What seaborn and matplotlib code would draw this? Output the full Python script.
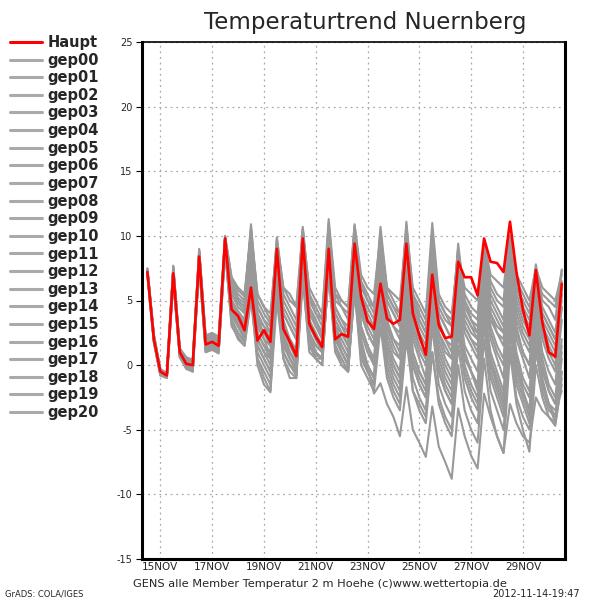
import numpy as np
import pandas as pd
import matplotlib
matplotlib.use("Agg")
import matplotlib.pyplot as plt
import matplotlib.dates as mdates
from matplotlib.ticker import FuncFormatter
from matplotlib.lines import Line2D
import seaborn as sns

title = "Temperaturtrend Nuernberg"
footer = "GENS alle Member Temperatur 2 m Hoehe (c)www.wettertopia.de"
credit_left = "GrADS: COLA/IGES"
credit_right = "2012-11-14-19:47"

start_time = "2012-11-14 12:00"
n_steps = 65
x_tick_days = ["2012-11-15", "2012-11-17", "2012-11-19", "2012-11-21",
               "2012-11-23", "2012-11-25", "2012-11-27", "2012-11-29"]
y_ticks = [-15, -10, -5, 0, 5, 10, 15, 20, 25]

haupt = [7.2, 2.0, -0.5, -0.8, 7.1, 1.0, 0.1, 0.0, 8.4, 1.6, 1.8, 1.5,
         9.8, 4.3, 3.8, 2.7, 6.0, 1.9, 2.7, 1.8, 9.0, 2.8, 1.8, 0.7,
         9.8, 3.2, 2.2, 1.4, 9.0, 2.0, 2.4, 2.2, 9.4, 5.3, 3.4, 2.8,
         6.3, 3.6, 3.2, 3.5, 9.4, 4.0, 2.3, 0.8, 7.0, 3.1, 2.1, 2.2,
         8.0, 6.8, 6.8, 5.4, 9.8, 8.0, 7.9, 7.2, 11.1, 7.2, 4.3, 2.3,
         7.35, 3.3, 1.0, 0.65, 6.3]

gep00 = [7.3, 2.1, -0.6, -0.9, 7.0, 0.9, 0.2, -0.2, 8.6, 1.8, 2.0, 1.6,
         9.5, 5.0, 4.2, 3.5, 9.8, 3.2, 2.5, 2.0, 8.5, 3.5, 2.0, 1.2,
         9.5, 4.0, 3.0, 2.5, 10.2, 4.5, 3.5, 3.0, 9.8, 5.5, 4.0, 3.0,
         9.0, 4.5, 3.0, 2.0, 8.0, 3.0, 1.5, 0.5, 6.5, 2.5, 1.0, 0.5,
         6.0, 3.0, 2.0, 1.5, 7.0, 4.0, 2.5, 1.5, 6.5, 3.0, 1.0, 0.0,
         5.0, 2.0, 0.5, -0.5, 4.5]
gep01 = [7.1, 1.9, -0.7, -1.0, 6.8, 1.1, 0.4, 0.2, 8.2, 1.4, 1.6, 1.3,
         9.9, 6.0, 5.0, 4.5, 10.5, 4.0, 2.0, 0.8, 7.5, 2.0, 0.5, -0.2,
         8.0, 2.5, 1.0, 0.5, 8.5, 3.0, 1.5, 0.5, 7.0, 2.0, 0.0, -1.0,
         5.5, 1.0, -0.5, -1.5, 4.5, 0.0, -1.5, -2.5, 3.5, -0.5, -2.0, -3.0,
         3.0, 0.5, -0.5, -1.5, 4.0, 1.0, -0.5, -2.0, 3.5, 0.5, -1.5, -2.5,
         2.5, -0.5, -2.0, -3.0, 1.5]
gep02 = [7.4, 2.3, -0.4, -0.7, 7.5, 1.2, 0.5, 0.3, 8.8, 2.0, 2.2, 1.8,
         10.0, 6.5, 5.5, 5.0, 10.9, 5.0, 4.0, 3.2, 9.9, 5.5, 4.5, 3.5,
         10.7, 5.5, 4.0, 3.0, 10.5, 5.0, 4.5, 4.0, 10.5, 6.5, 5.0, 4.5,
         10.7, 6.0, 5.0, 4.0, 11.1, 5.5, 4.5, 3.5, 10.0, 5.0, 4.0, 3.0,
         9.4, 5.0, 3.5, 2.5, 8.5, 5.5, 4.5, 3.5, 9.0, 6.0, 5.0, 4.0,
         7.8, 5.0, 4.5, 3.5, 7.4]
gep03 = [7.2, 2.0, -0.5, -0.7, 6.6, 0.8, -0.1, -0.3, 7.9, 1.2, 1.4, 1.1,
         9.2, 4.0, 3.5, 2.5, 7.5, 2.0, 1.0, 0.5, 8.0, 2.5, 1.0, 0.3,
         9.0, 3.5, 2.0, 1.0, 9.5, 3.5, 2.5, 1.5, 8.5, 4.0, 2.5, 1.5,
         8.0, 3.5, 2.0, 1.0, 9.0, 4.0, 2.5, 1.5, 8.0, 3.5, 2.0, 1.0,
         7.0, 3.0, 2.0, 1.0, 6.0, 2.5, 1.0, 0.0, 5.5, 2.0, 0.5, -1.0,
         4.5, 1.0, -0.5, -1.5, 3.5]
gep04 = [7.0, 1.8, -0.8, -0.9, 6.9, 0.7, 0.0, -0.4, 8.0, 1.5, 1.5, 1.2,
         9.0, 3.5, 2.5, 1.8, 6.5, 0.5, -1.0, -2.0, 6.0, 1.0, 0.0, -0.8,
         7.5, 2.0, 1.0, 0.5, 8.0, 2.5, 1.0, 0.0, 6.5, 1.5, 0.0, -1.0,
         6.0, 1.5, 0.0, -1.0, 5.5, 1.0, -0.5, -1.5, 4.0, 0.0, -1.5, -2.5,
         4.5, 1.0, -0.5, -2.0, 5.0, 0.5, -1.5, -3.0, 4.0, -0.5, -2.0, -3.5,
         3.0, -1.0, -3.0, -4.5, -0.5]
gep05 = [7.3, 2.2, -0.5, -0.8, 7.3, 1.0, 0.3, 0.1, 8.5, 1.7, 1.9, 1.6,
         9.7, 4.8, 3.8, 3.0, 8.5, 3.0, 2.0, 1.5, 9.0, 3.0, 2.0, 1.0,
         10.0, 3.0, 2.0, 1.2, 9.8, 3.0, 2.5, 2.0, 9.0, 4.5, 3.0, 2.0,
         7.5, 3.0, 2.0, 1.5, 7.0, 2.5, 1.0, 0.0, 6.0, 2.0, 0.5, -0.5,
         5.5, 2.5, 1.5, 0.5, 6.5, 3.5, 2.5, 2.0, 7.5, 4.0, 2.5, 1.5,
         6.0, 3.0, 1.5, 0.5, 5.5]
gep06 = [7.2, 2.0, -0.6, -0.8, 7.2, 1.0, 0.1, -0.1, 8.3, 1.6, 1.7, 1.4,
         9.6, 4.5, 3.5, 2.8, 8.0, 2.5, 1.5, 0.5, 7.0, 1.5, 0.5, -0.5,
         8.5, 2.5, 1.5, 1.0, 8.0, 2.0, 1.0, 0.0, 5.5, 1.0, -0.1, -2.2,
         -1.4, -3.0, -4.0, -5.5, -1.7, -5.0, -6.0, -7.1, -3.2, -6.3, -7.5, -8.8,
         -3.35, -5.5, -7.0, -8.0, -2.2, -4.0, -5.5, -6.8, -3.0, -4.5, -5.5, -6.0,
         -2.5, -3.5, -4.0, -4.5, -1.5]
gep07 = [7.5, 2.4, -0.3, -0.6, 7.7, 1.3, 0.6, 0.4, 9.0, 2.3, 2.5, 2.2,
         9.9, 6.8, 6.0, 5.5, 10.2, 5.5, 4.5, 4.0, 9.5, 6.0, 5.0, 4.5,
         10.3, 6.0, 5.0, 4.0, 11.3, 6.0, 5.0, 4.5, 10.9, 7.0, 6.0, 5.5,
         10.0, 6.0, 5.5, 5.0, 10.5, 6.0, 5.0, 4.0, 11.0, 5.5, 4.5, 4.0,
         8.5, 6.0, 5.5, 5.0, 9.5, 7.0, 6.5, 6.0, 10.0, 7.0, 6.0, 5.0,
         7.5, 6.0, 5.5, 5.0, 7.0]
gep08 = [7.1, 1.9, -0.7, -0.9, 6.7, 0.6, -0.2, -0.5, 7.8, 1.1, 1.3, 1.0,
         8.8, 3.2, 2.0, 1.5, 5.5, 0.0, -1.5, -2.1, 5.0, 0.5, -0.5, -1.0,
         6.5, 1.5, 0.8, 0.5, 7.0, 1.5, 0.0, -0.5, 6.0, 1.0, -0.5, -1.5,
         5.0, 0.0, -1.5, -2.5, 4.0, -1.0, -2.5, -3.5, 3.0, -1.5, -3.0, -4.0,
         2.5, -1.0, -2.5, -3.5, 3.5, -0.5, -2.0, -3.5, 3.0, -1.0, -2.5, -4.0,
         2.0, -1.5, -3.0, -4.0, 0.5]
gep09 = [7.3, 2.1, -0.5, -0.8, 7.4, 1.1, 0.2, 0.0, 8.7, 1.9, 2.1, 1.7,
         9.4, 5.5, 4.5, 4.0, 9.0, 3.5, 3.0, 2.5, 8.8, 4.0, 3.0, 2.0,
         9.2, 4.5, 3.5, 2.5, 9.0, 4.0, 3.0, 2.5, 8.0, 4.0, 3.5, 3.0,
         9.5, 5.0, 4.0, 3.0, 10.0, 5.0, 3.5, 2.5, 9.0, 4.0, 3.0, 2.0,
         8.0, 4.5, 3.5, 3.0, 8.0, 5.0, 4.0, 3.0, 8.5, 5.0, 3.5, 2.5,
         7.0, 4.0, 3.0, 2.0, 6.0]
gep10 = [7.2, 2.0, -0.4, -0.7, 7.1, 0.9, 0.0, -0.2, 8.4, 1.5, 1.8, 1.5,
         9.5, 4.2, 3.2, 2.2, 7.0, 1.5, 0.5, -0.5, 7.5, 2.0, 0.5, -0.5,
         8.0, 2.0, 0.5, 0.0, 7.5, 1.5, 0.5, -0.5, 6.5, 0.5, -0.5, -1.5,
         4.0, -0.5, -2.0, -3.0, 3.0, -2.0, -3.5, -4.5, 1.0, -3.0, -4.5, -5.5,
         0.0, -3.5, -5.0, -6.0, 0.5, -3.5, -5.5, -6.8, 1.0, -3.0, -5.0, -6.7,
         0.0, -2.5, -4.0, -4.7, -1.0]
gep11 = [7.4, 2.2, -0.5, -0.9, 6.5, 0.8, 0.0, -0.3, 8.1, 1.3, 1.6, 1.2,
         9.3, 4.0, 3.0, 2.0, 7.0, 2.5, 1.5, 1.0, 8.2, 2.0, 1.0, 0.0,
         9.0, 2.5, 1.5, 1.0, 9.5, 3.0, 2.0, 1.0, 8.5, 3.0, 1.5, 0.5,
         7.0, 2.5, 1.0, 0.5, 7.5, 2.0, 0.5, -1.0, 6.5, 1.5, 0.0, -1.0,
         5.0, 1.5, 0.5, -0.5, 5.5, 2.0, 0.5, -1.0, 6.0, 2.5, 1.0, 0.0,
         5.5, 2.5, 1.0, 0.0, 4.5]
gep12 = [7.3, 2.2, -0.4, -0.7, 7.6, 1.2, 0.4, 0.2, 8.9, 2.1, 2.3, 2.0,
         9.8, 6.2, 5.2, 4.8, 10.6, 5.5, 4.5, 3.5, 9.5, 5.0, 4.0, 3.0,
         10.5, 5.0, 4.0, 3.5, 10.8, 5.5, 4.5, 3.5, 10.5, 6.0, 5.0, 4.0,
         10.0, 5.5, 4.5, 3.5, 10.5, 5.0, 3.5, 2.5, 9.5, 4.5, 3.5, 3.0,
         9.0, 5.5, 4.5, 4.0, 9.0, 6.0, 5.0, 4.5, 9.5, 6.0, 4.5, 3.5,
         7.0, 4.5, 3.5, 2.5, 6.5]
gep13 = [7.0, 1.8, -0.6, -1.0, 6.4, 0.7, -0.3, -0.5, 7.6, 1.0, 1.2, 1.0,
         8.9, 3.5, 2.5, 1.8, 6.0, 1.0, 0.0, -1.0, 6.5, 1.0, 0.0, -0.5,
         7.0, 1.5, 0.5, 0.0, 7.5, 2.0, 1.0, 0.0, 7.0, 2.5, 1.0, 0.0,
         6.5, 1.5, 0.0, -1.0, 6.0, 0.5, -1.0, -2.0, 5.0, 0.5, -1.0, -2.0,
         4.0, 0.0, -1.5, -2.5, 3.0, -1.0, -2.5, -4.0, 2.5, -1.5, -3.0, -4.5,
         1.5, -2.0, -3.5, -4.0, -0.5]
gep14 = [7.2, 2.1, -0.5, -0.8, 7.0, 1.0, 0.3, 0.0, 8.5, 1.6, 1.9, 1.4,
         9.9, 5.5, 4.8, 4.2, 10.2, 4.5, 3.5, 2.5, 9.2, 4.5, 3.5, 2.5,
         9.8, 4.5, 3.5, 2.0, 10.0, 4.0, 3.0, 2.0, 9.5, 5.0, 3.5, 2.5,
         8.5, 4.0, 3.0, 2.5, 8.5, 3.5, 2.0, 1.0, 7.5, 3.0, 2.0, 1.5,
         7.0, 4.0, 3.0, 2.0, 7.5, 4.0, 3.0, 2.5, 8.0, 4.5, 3.0, 2.0,
         6.5, 3.5, 2.5, 1.5, 5.0]
gep15 = [7.1, 2.0, -0.6, -0.9, 6.8, 0.9, 0.1, -0.2, 8.2, 1.4, 1.5, 1.3,
         9.2, 3.8, 3.0, 2.0, 6.5, 1.5, 0.5, -0.5, 6.5, 0.5, -1.0, -1.0,
         7.5, 2.0, 1.0, 0.5, 7.0, 1.0, 0.0, -0.5, 6.0, 0.0, -1.0, -2.0,
         3.0, -1.0, -2.5, -3.5, 2.0, -2.0, -3.0, -4.0, 1.0, -2.5, -4.0, -5.0,
         1.5, -2.0, -3.5, -4.5, 2.0, -2.0, -3.5, -5.0, 1.5, -2.5, -4.0, -5.0,
         1.0, -1.5, -3.0, -3.5, -2.0]
gep16 = [7.4, 2.3, -0.4, -0.6, 7.5, 1.2, 0.6, 0.4, 8.8, 2.2, 2.4, 2.0,
         10.0, 6.8, 5.8, 5.3, 10.3, 4.5, 3.5, 3.0, 9.8, 6.0, 5.5, 4.5,
         10.6, 5.5, 4.5, 3.5, 11.0, 5.5, 5.0, 4.5, 10.8, 6.5, 5.5, 4.5,
         10.3, 5.5, 4.5, 4.0, 10.8, 5.5, 4.0, 3.0, 10.5, 5.0, 4.0, 3.5,
         9.0, 5.0, 4.0, 3.5, 9.5, 6.5, 5.5, 5.0, 10.0, 6.5, 5.5, 4.5,
         7.0, 5.5, 5.0, 4.5, 7.3]
gep17 = [7.2, 1.9, -0.7, -0.8, 6.9, 0.8, 0.0, -0.4, 8.0, 1.3, 1.5, 1.2,
         9.3, 4.0, 3.0, 2.2, 7.5, 2.0, 1.0, 0.0, 7.8, 2.0, 1.0, 0.0,
         8.5, 2.5, 1.5, 1.0, 8.8, 2.5, 1.5, 0.5, 8.0, 3.0, 1.5, 0.0,
         7.0, 2.0, 0.5, -0.5, 6.5, 1.0, -0.5, -1.5, 5.5, 1.0, -0.5, -1.5,
         5.0, 1.0, -0.5, -1.5, 4.5, 0.5, -1.0, -2.5, 5.0, 1.0, -1.0, -2.0,
         4.0, 0.5, -1.5, -2.5, 2.0]
gep18 = [7.3, 2.2, -0.5, -0.8, 7.3, 1.1, 0.2, 0.1, 8.6, 1.8, 2.0, 1.7,
         9.6, 5.0, 4.0, 3.2, 9.5, 3.5, 2.5, 1.5, 8.5, 3.0, 1.5, 0.5,
         9.5, 3.5, 2.5, 1.5, 9.5, 3.5, 2.5, 1.5, 9.0, 4.0, 2.5, 1.5,
         8.0, 3.0, 1.5, 0.5, 8.5, 3.0, 1.5, 0.5, 7.0, 2.5, 1.5, 0.5,
         6.5, 3.5, 2.5, 2.0, 7.0, 3.0, 1.5, 0.5, 7.0, 3.5, 2.0, 1.0,
         6.0, 3.0, 2.0, 1.0, 5.5]
gep19 = [7.0, 1.7, -0.8, -1.0, 6.6, 0.6, -0.2, -0.4, 7.7, 1.0, 1.2, 0.9,
         9.0, 3.0, 2.2, 1.5, 5.0, 0.5, -0.5, -1.5, 6.0, 1.0, 0.0, -0.5,
         7.0, 1.0, 0.5, 0.5, 7.5, 1.5, 0.5, -0.5, 7.0, 1.5, 0.0, -1.0,
         5.5, 0.5, -1.0, -2.0, 5.0, 0.0, -1.5, -2.5, 4.5, -0.5, -2.0, -3.0,
         3.5, -0.5, -2.0, -3.0, 4.0, 0.0, -1.5, -3.0, 4.5, 0.0, -2.0, -3.5,
         3.5, 0.0, -2.0, -3.0, 1.0]
gep20 = [7.4, 2.3, -0.4, -0.7, 7.6, 1.3, 0.5, 0.3, 8.8, 2.0, 2.2, 1.9,
         9.8, 5.8, 5.0, 4.5, 10.0, 4.0, 3.0, 2.0, 9.0, 4.0, 3.0, 2.0,
         10.0, 4.5, 3.0, 2.0, 10.5, 4.5, 3.5, 2.5, 10.0, 5.5, 4.5, 3.5,
         9.5, 5.0, 4.0, 3.0, 9.5, 4.5, 3.0, 2.0, 8.5, 4.0, 3.0, 2.0,
         7.5, 4.0, 3.0, 2.5, 8.5, 4.5, 3.5, 2.5, 9.0, 5.5, 4.0, 3.0,
         7.0, 4.0, 3.0, 2.0, 6.0]

members = {
    "gep00": gep00, "gep01": gep01, "gep02": gep02, "gep03": gep03,
    "gep04": gep04, "gep05": gep05, "gep06": gep06, "gep07": gep07,
    "gep08": gep08, "gep09": gep09, "gep10": gep10, "gep11": gep11,
    "gep12": gep12, "gep13": gep13, "gep14": gep14, "gep15": gep15,
    "gep16": gep16, "gep17": gep17, "gep18": gep18, "gep19": gep19,
    "gep20": gep20,
}

times = pd.date_range(start_time, periods=n_steps, freq="6h")
rows = []
for name, vals in members.items():
    for t, v in zip(times, vals):
        rows.append((t, name, v))
df_members = pd.DataFrame(rows, columns=["time", "member", "temp"])
df_haupt = pd.DataFrame({"time": times, "temp": haupt})

sns.set_theme(style="white")
plt.rcParams["font.family"] = ["DejaVu Sans"]

GREY = "#999999"
fig = plt.figure(figsize=(6, 6), dpi=100)
ax = fig.add_axes([142 / 600, 1 - 559 / 600, 423 / 600, 517 / 600])

pal = {m: GREY for m in members}
sns.lineplot(data=df_members, x="time", y="temp", hue="member", palette=pal,
             linewidth=1.5, legend=False, ax=ax, estimator=None)
sns.lineplot(data=df_haupt, x="time", y="temp", color="red", linewidth=1.9,
             ax=ax, estimator=None)

ax.set_ylim(-15, 25)
ax.set_xlim(pd.Timestamp("2012-11-14 07:00"), pd.Timestamp("2012-11-30 15:00"))
ax.set_yticks(y_ticks)
ax.set_yticklabels([str(v) for v in y_ticks])
ax.set_xticks([pd.Timestamp(d) for d in x_tick_days])
ax.xaxis.set_major_formatter(
    FuncFormatter(lambda x, pos: mdates.num2date(x).strftime("%d%b").upper()))
ax.set_xlabel("")
ax.set_ylabel("")
ax.grid(True, color="#aaaaaa", linestyle=(0, (1.5, 3)), linewidth=0.9)
ax.tick_params(axis="y", which="major", left=True, length=4, width=0.8,
               labelsize=7, pad=3, color="black")
ax.tick_params(axis="x", which="major", bottom=False, length=0,
               labelsize=7.5, pad=2)
for side in ["left", "bottom", "right"]:
    ax.spines[side].set_color("black")
    ax.spines[side].set_linewidth(2.2)
ax.spines["top"].set_color("black")
ax.spines["top"].set_linewidth(1.2)
ax.spines["top"].set_linestyle((0, (1, 1)))

fig.text(365 / 600, 1 - 23 / 600, title, ha="center", va="center", fontsize=16.5)
fig.text(320 / 600, 1 - 584 / 600, footer, ha="center", va="center", fontsize=8.2)
fig.text(5 / 600, 1 - 594 / 600, credit_left, ha="left", va="center", fontsize=6)
fig.text(580 / 600, 1 - 594 / 600, credit_right, ha="right", va="center", fontsize=7)

handles = [Line2D([], [], color="red", linewidth=2.2)]
labels = ["Haupt"]
for name in members:
    handles.append(Line2D([], [], color="#aaaaaa", linewidth=2.2))
    labels.append(name)
leg = fig.legend(handles, labels, loc="upper left",
                 bbox_to_anchor=(10 / 600, 1 - 35 / 600), frameon=False,
                 handlelength=2.2, handletextpad=0.35, labelspacing=0.18,
                 borderaxespad=0, borderpad=0,
                 prop={"size": 10.5, "weight": "bold"})

fig.savefig("out.png", dpi=100)
